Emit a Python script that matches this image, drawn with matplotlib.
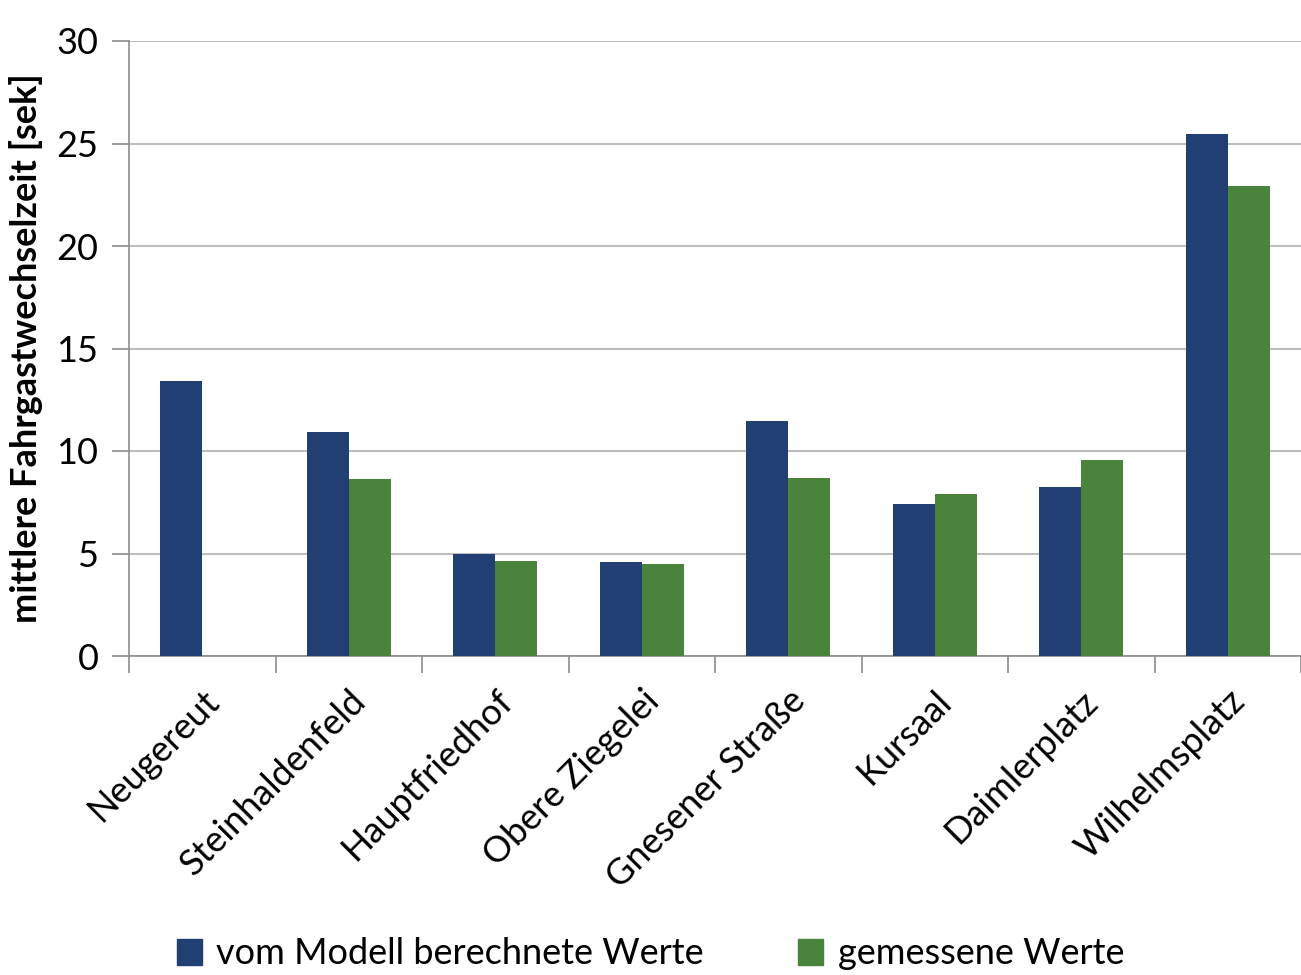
import numpy as np
import matplotlib.pyplot as plt
from matplotlib.patches import Patch

plt.rcParams['font.family'] = ['Lato', 'DejaVu Sans']

# Daten
haltestellen = ["Neugereut", "Steinhaldenfeld", "Hauptfriedhof", "Obere Ziegelei",
                "Gnesener Straße", "Kursaal", "Daimlerplatz", "Wilhelmsplatz"]
modell = [13.4, 10.95, 5.0, 4.6, 11.45, 7.4, 8.25, 25.45]
gemessen = [0.0, 8.65, 4.65, 4.5, 8.7, 7.9, 9.55, 22.95]

blau = "#213F73"
gruen = "#4A843C"

fig = plt.figure(figsize=(13.01, 9.75), dpi=100)
ax = fig.add_axes([129 / 1301, 1 - 656 / 975, 1172 / 1301, 615 / 975])

x = np.arange(len(haltestellen))
w = 0.287
ax.bar(x - w / 2, modell, w, color=blau, zorder=3)
ax.bar(x + w / 2, gemessen, w, color=gruen, zorder=3)

ax.set_xlim(-0.5, len(haltestellen) - 0.5)
ax.set_ylim(0, 30)
ax.set_yticks(np.arange(0, 31, 5))
ax.yaxis.grid(True, color="#BEBEBE", linewidth=1.5, zorder=0)

# Ticks an den Kategoriegrenzen, Beschriftung in der Mitte
ax.set_xticks(np.arange(-0.5, len(haltestellen)), minor=False)
ax.set_xticklabels([])
ax.set_xticks(x, minor=True)
ax.set_xticklabels(haltestellen, minor=True, rotation=45, ha="right",
                   rotation_mode="anchor", fontsize=26)
ax.tick_params(axis="x", which="major", length=12, color="#8C8C8C", width=1.2)
ax.tick_params(axis="x", which="minor", length=0, pad=20)
ax.tick_params(axis="y", length=12, color="#8C8C8C", width=1.2, labelsize=26, pad=10)

for s in ["top", "right"]:
    ax.spines[s].set_visible(False)
ax.spines["left"].set_color("#8C8C8C")
ax.spines["bottom"].set_color("#8C8C8C")
ax.spines["left"].set_linewidth(1.2)
ax.spines["bottom"].set_linewidth(1.2)

ax.set_ylabel("mittlere Fahrgastwechselzeit [sek]", fontsize=26, fontweight="bold",
              labelpad=10)

handles = [Patch(color=blau), Patch(color=gruen)]
fig.legend(handles, ["vom Modell berechnete Werte", "gemessene Werte"],
           loc="center", bbox_to_anchor=(0.5, 1 - 954 / 975), ncol=2,
           frameon=False, fontsize=26, handlelength=0.7, handleheight=0.7,
           handletextpad=0.4, columnspacing=2.6)

plt.savefig("out.png", dpi=100)
